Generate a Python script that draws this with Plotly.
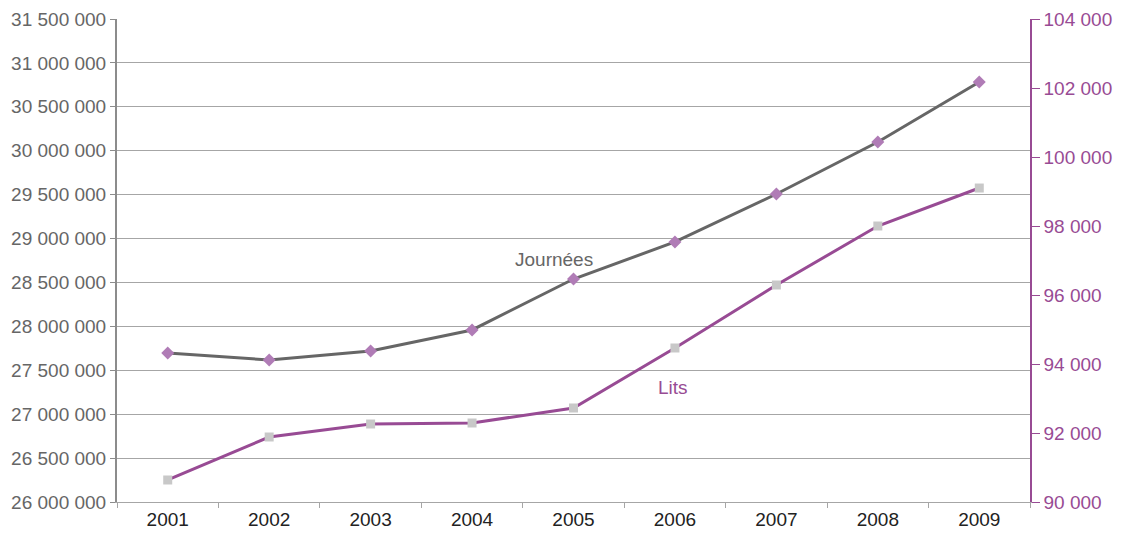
import plotly.graph_objects as go

years = ["2001", "2002", "2003", "2004", "2005", "2006", "2007", "2008", "2009"]
journees = [27697000, 27617000, 27719000, 27959000, 28539000, 28961000, 29507000, 30099000, 30783000]
lits = [90638, 91884, 92261, 92290, 92725, 94464, 96290, 98000, 99101]

left_ticks = list(range(26000000, 31500001, 500000))
left_labels = [f"{v:,}".replace(",", " ") for v in left_ticks]
right_ticks = list(range(90000, 104001, 2000))
right_labels = [f"{v:,}".replace(",", " ") for v in right_ticks]

GRAY = "#666666"
PURPLE = "#984B94"
FONT = "Liberation Sans, Arial, sans-serif"
FS = 19

fig = go.Figure()
fig.add_trace(go.Scatter(
    x=years, y=journees, mode="lines+markers", name="Journées",
    line=dict(color=GRAY, width=3),
    marker=dict(symbol="diamond", size=10, color="#B07CB6"),
    yaxis="y",
))
fig.add_trace(go.Scatter(
    x=years, y=lits, mode="lines+markers", name="Lits",
    line=dict(color=PURPLE, width=3),
    marker=dict(symbol="square", size=9, color="#C8C8C8"),
    yaxis="y2",
))

fig.add_annotation(x=3.81, y=28760000, xref="x", yref="y", text="Journées",
                   showarrow=False, font=dict(family=FONT, size=FS, color=GRAY))
fig.add_annotation(x=4.98, y=93320, xref="x", yref="y2", text="Lits",
                   showarrow=False, font=dict(family=FONT, size=FS, color=PURPLE))

fig.update_layout(
    width=1128, height=526,
    margin=dict(l=109, r=106, t=11, b=32, autoexpand=False),
    paper_bgcolor="white", plot_bgcolor="white",
    showlegend=False,
    font=dict(family=FONT, size=FS),
    xaxis=dict(
        type="category", range=[-0.5, 8.5], automargin=False,
        showgrid=False, showline=True, linecolor="#A6A6A6", linewidth=1,
        ticks="outside", tickson="boundaries", ticklen=5, tickcolor="#A6A6A6",
        tickfont=dict(family=FONT, size=FS, color="#222222"),
        zeroline=False,
    ),
    yaxis=dict(
        range=[26000000, 31500000], tickvals=left_ticks, ticktext=left_labels,
        automargin=False,
        showgrid=True, gridcolor="#A6A6A6", gridwidth=1,
        showline=True, linecolor="#8C8C8C", linewidth=2,
        ticks="outside", ticklen=5, tickcolor="#8C8C8C",
        tickfont=dict(family=FONT, size=FS, color="#666666"),
        zeroline=False,
    ),
    yaxis2=dict(
        range=[90000, 104000], tickvals=right_ticks, ticktext=right_labels,
        automargin=False,
        overlaying="y", side="right", showgrid=False,
        showline=True, linecolor=PURPLE, linewidth=1.5,
        ticks="outside", ticklen=8, tickcolor=PURPLE,
        tickfont=dict(family=FONT, size=FS, color=PURPLE),
        zeroline=False,
    ),
)

fig.write_html("out.html")
